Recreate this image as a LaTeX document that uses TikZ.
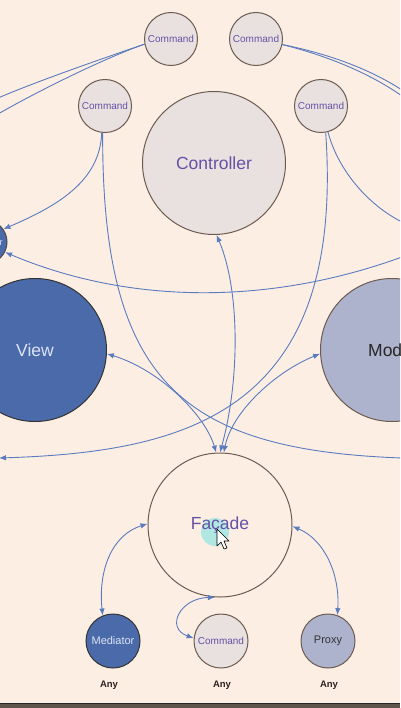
\documentclass[tikz,border=0pt]{standalone}
\usepackage{fontspec}
\setmainfont{Liberation Sans}
\usetikzlibrary{arrows.meta}
\definecolor{bg}{HTML}{FDEEE4}
\definecolor{cmdfill}{HTML}{E9E1DF}
\definecolor{nodeline}{HTML}{6B5B50}
\definecolor{cmdtext}{HTML}{6452A6}
\definecolor{viewfill}{HTML}{4A6AAA}
\definecolor{modelfill}{HTML}{ADB2CD}
\definecolor{lighttext}{HTML}{DCE4F4}
\definecolor{link}{HTML}{5A7BBE}
\definecolor{hl}{HTML}{9FE6E2}
\definecolor{barcol}{HTML}{5E554D}
\definecolor{anycol}{HTML}{2A2220}
\tikzset{
  tipA/.tip={Latex[length=7pt,width=5.5pt]},
  circ/.style={circle,draw=nodeline,line width=1pt,inner sep=0pt,align=center},
  cmd/.style={circ,fill=cmdfill,minimum size=53pt,font=\fontsize{10}{12}\selectfont,text=cmdtext},
  big/.style={circ,minimum size=143pt,font=\fontsize{17.5}{20}\selectfont},
  small/.style={circ,minimum size=54pt,font=\fontsize{11}{13}\selectfont},
  anytext/.style={font=\bfseries\fontsize{9.5}{11}\selectfont,text=anycol,inner sep=0pt},
  conn/.style={draw=link,line width=0.9pt},
  both/.style={conn,tipA-tipA},
  onearrow/.style={conn,-tipA},
}
\begin{document}
\begin{tikzpicture}[x=1pt,y=-1pt]
\useasboundingbox (0,0) rectangle (400,708);
\fill[bg] (0,0) rectangle (400,708);
\clip (0,0) rectangle (400,708);

% nodes
\node[cmd] (c1) at (171,39) {Command};
\node[cmd] (c2) at (256,39) {Command};
\node[cmd] (c3) at (105,106) {Command};
\node[cmd] (c4) at (321,106) {Command};
\node[big,fill=cmdfill,text=cmdtext] (ctrl) at (214,163) {Controller};
\node[big,fill=viewfill,draw=black!80,text=lighttext] (view) at (35,350) {View};
\node[big,fill=modelfill,text=black!85] (model) at (392,350) {Model};
\node[circ,fill=viewfill,draw=black!70,minimum size=44pt,font=\fontsize{9}{11}\selectfont,text=lighttext] (medL) at (-15,242) {Mediator};
\node[big,minimum size=144pt,fill=bg,text=cmdtext,
  path picture={\fill[hl,opacity=0.8] ([xshift=-5pt,yshift=-7pt]path picture bounding box.center) circle (14pt);}] (fac) at (220,525) {Façade};
\node[small,fill=viewfill,draw=black!80,text=lighttext] (med) at (113,641) {Mediator};
\node[cmd,minimum size=54pt] (c5) at (221,641) {Command};
\node[small,fill=modelfill,text=black!80] (proxy) at (328,641) {Proxy};
\node[anytext] (a1) at (109,685) {Any};
\node[anytext] (a2) at (222,685) {Any};
\node[anytext] (a3) at (329,685) {Any};

% off-screen ends
\coordinate (L1) at (-2,98);
\coordinate (L2) at (-2,114);
\coordinate (R1) at (402,90);
\coordinate (R2) at (402,96);
\coordinate (R3) at (402,458);
\coordinate (L3) at (-1,458);
\coordinate (R4) at (402,222);
\coordinate (R5) at (402,257);

% connectors
\draw[conn] (c1.191) .. controls (110,56) and (40,80) .. (L1);
\draw[conn] (c1.191) .. controls (105,58) and (40,90) .. (L2);
\draw[conn] (c2.348) .. controls (320,52) and (365,66) .. (R1);
\draw[conn] (c2.348) .. controls (320,54) and (365,70) .. (R2);
\draw[onearrow] (c3.263) .. controls (100,180) and (60,205) .. (medL.35);
\draw[conn] (c3.265) .. controls (102,380) and (180,450) .. (R3);
\draw[onearrow] (c4.280) .. controls (345,410) and (190,452) .. (L3);
\draw[conn] (c4.285) .. controls (338,170) and (368,205) .. (R4);
\draw[onearrow] (R5) .. controls (270,305) and (130,305) .. (medL.-27);
\draw[both] (fac.90) .. controls (240,380) and (240,290) .. (ctrl.272);
\draw[both] (view.-3) .. controls (160,370) and (205,415) .. (fac.93);
\draw[both] (model.183) .. controls (275,372) and (232,412) .. (fac.87);
\draw[both] (fac.179) .. controls (112,535) and (98,570) .. (med.112);
\draw[both] (fac.-1) .. controls (325,540) and (340,575) .. (proxy.70);
\draw[both] (fac.266) .. controls (180,598) and (165,628) .. (c5.174);

% mouse cursor
\draw[fill=white,draw=black,line width=0.6pt,line join=round]
  (217,529) -- ++(0,17) -- ++(4,-4) -- ++(3,7) -- ++(3,-1) -- ++(-3,-7) -- ++(5,0) -- cycle;

% bottom bar
\fill[barcol] (0,703) rectangle (400,708);
\draw[black!85,line width=0.8pt] (0,703.4) -- (400,703.4);
\end{tikzpicture}
\end{document}
